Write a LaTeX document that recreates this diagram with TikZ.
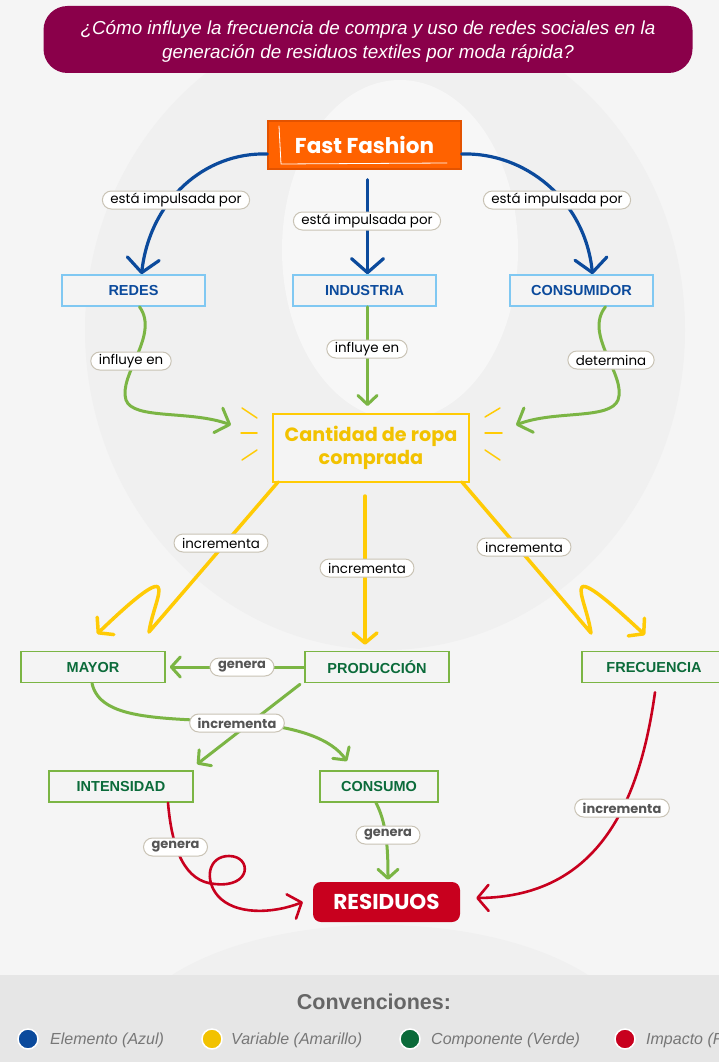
\documentclass[tikz,border=0pt]{standalone}
\usepackage{fontspec}
\setmainfont{Liberation Sans}
\newfontfamily\popfont{Poppins}
\usetikzlibrary{arrows.meta,calc}
\definecolor{bgc}{HTML}{F5F5F5}
\definecolor{bgdark}{HTML}{F0F0F0}
\definecolor{bglight}{HTML}{F7F7F7}
\definecolor{legbg}{HTML}{E6E6E6}
\definecolor{ctitle}{HTML}{8A004A}
\definecolor{corange}{HTML}{FF6200}
\definecolor{corangeb}{HTML}{E35300}
\definecolor{cblue}{HTML}{0B4A9C}
\definecolor{cbluel}{HTML}{80C8F2}
\definecolor{cgreen}{HTML}{7BB544}
\definecolor{cgreent}{HTML}{0B6B3A}
\definecolor{cyellow}{HTML}{FFCB05}
\definecolor{cyellowt}{HTML}{F2C200}
\definecolor{cred}{HTML}{C8001E}
\definecolor{cpill}{HTML}{C9C3B5}
\definecolor{cgray}{HTML}{555555}
\definecolor{clegt}{HTML}{777777}
\definecolor{clegh}{HTML}{666666}
\definecolor{boxfill}{HTML}{F4F4F4}
\tikzset{
 titlebox/.style={fill=ctitle, rounded corners=24pt, minimum width=649pt, minimum height=67pt, inner sep=0pt},
 titletext/.style={text=white, align=center, inner sep=0pt, font=\itshape\fontsize{18.8}{24}\selectfont},
 ffbox/.style={fill=corange, draw=corangeb, line width=1.5pt, minimum width=193pt, minimum height=48pt, text=white, inner sep=0pt, font=\popfont\bfseries\fontsize{21.5}{24}\selectfont},
 bluebox/.style={draw=cbluel, line width=1.6pt, fill=boxfill, minimum width=143pt, minimum height=31pt, inner sep=0pt, text=cblue, font=\bfseries\fontsize{14.5}{16}\selectfont},
 gbox/.style={draw=cgreen, line width=1.6pt, fill=boxfill, minimum width=144pt, minimum height=31pt, inner sep=0pt, text=cgreent, font=\bfseries\fontsize{14.5}{16}\selectfont},
 ybox/.style={draw=cyellow, line width=2pt, fill=boxfill, minimum width=196pt, minimum height=68pt, inner sep=0pt, text=cyellowt, align=center, font=\popfont\bfseries\fontsize{19.2}{22.5}\selectfont},
 rbox/.style={fill=cred, rounded corners=8pt, minimum width=147pt, minimum height=40pt, inner sep=0pt, text=white, font=\popfont\bfseries\fontsize{21.5}{24}\selectfont},
 pill/.style={draw=cpill, fill=white, rounded corners=9pt, line width=1pt, minimum height=18pt, inner xsep=8pt, inner ysep=1pt, text=black, font=\popfont\fontsize{13.4}{15}\selectfont},
 gpill/.style={pill, text=cgray, font=\popfont\bfseries\fontsize{13}{15}\selectfont},
 barrow/.style={draw=cblue, line width=3.2pt, line cap=round, -{Straight Barb[length=14pt,width=32pt,round]}},
 garrow/.style={draw=cgreen, line width=3pt, line cap=round, line join=round, -{Straight Barb[length=9pt,width=20pt,round]}},
 yarrow/.style={draw=cyellow, line width=3.5pt, line cap=round, line join=round, -{Straight Barb[length=10pt,width=24pt,round]}},
 rarrow/.style={draw=cred, line width=2.6pt, line cap=round, line join=round, -{Straight Barb[length=11pt,width=26pt,round]}},
 ray/.style={draw=cyellow, line width=1.5pt, line cap=round},
 legdot/.style={circle, draw=white, line width=1.5pt, minimum size=20pt, inner sep=0pt},
 legtext/.style={anchor=west, inner sep=0pt, text=clegt, font=\itshape\fontsize{16}{18}\selectfont},
}
\begin{document}
\begin{tikzpicture}[x=1pt,y=-1pt]
\useasboundingbox (0,0) rectangle (719,1062);
% background
\fill[bgc] (0,0) rectangle (719,1062);
\fill[bgdark] (385,330) ellipse [x radius=300, y radius=320];
\fill[bglight] (400,250) ellipse [x radius=118, y radius=170];
\fill[bgdark] (380,1050) ellipse [x radius=260, y radius=125];
\fill[legbg] (0,975) rectangle (719,1062);

% title
\node[titlebox] (title) at (368,39.5) {};
\node[titletext] (titletxt) at (368,42) {¿Cómo influye la frecuencia de compra y uso de redes sociales en la\\generación de residuos textiles por moda rápida?};

% main nodes
\node[ffbox] (ff) at (364.5,145) {Fast Fashion};
\draw[white, line width=0.8pt, line cap=round] (279,126) -- (281,164) -- (447,163);

\node[bluebox] (redes) at (133.5,290.5) {REDES};
\node[bluebox] (ind) at (364.5,290.5) {INDUSTRIA};
\node[bluebox] (cons) at (581.5,290.5) {CONSUMIDOR};

\node[ybox] (cant) at (371,448) {Cantidad de ropa\\comprada};
\draw[ray] (242,408) -- (257,418);
\draw[ray] (241,433) -- (257,433);
\draw[ray] (242,460) -- (257,450);
\draw[ray] (485,417) -- (500,408);
\draw[ray] (485,433) -- (502,433);
\draw[ray] (485,450) -- (500,460);

\node[gbox] (mayor) at (93,667) {MAYOR};
\node[gbox] (prod) at (377,667) {PRODUCCIÓN};
\node[gbox] (frec) at (654,667) {FRECUENCIA};
\node[gbox] (inten) at (121,786.5) {INTENSIDAD};
\node[gbox, minimum width=118pt] (consumo) at (379,786.5) {CONSUMO};

\node[rbox] (res) at (386.5,902) {RESIDUOS};

% free ends
\coordinate (cinL) at (231,425);
\coordinate (cinR) at (516,425);
\coordinate (cinM) at (367.5,406);
\coordinate (mayL) at (97,634);
\coordinate (frecR) at (645,635);

% blue connectors
\draw[barrow] ($(ff.west)+(0,9)$) .. controls (205,152) and (150,200) .. ([xshift=8pt]redes.north);
\draw[barrow] ($(ff.south)+(3,10)$) -- ([xshift=3pt]ind.north);
\draw[barrow] ($(ff.east)+(0,9)$) .. controls (525,152) and (585,200) .. ([xshift=11pt]cons.north);

% green to yellow box
\draw[garrow, -{Straight Barb[length=12pt,width=26pt,round]}] ([xshift=6pt]redes.south) .. controls (160,335) and (118,375) .. (126,400) .. controls (133,420) and (190,410) .. (cinL);
\draw[garrow, -{Straight Barb[length=9pt,width=19pt,round]}] ([xshift=3pt]ind.south) -- (cinM);
\draw[garrow, -{Straight Barb[length=12pt,width=26pt,round]}] ([xshift=24pt]cons.south) .. controls (583,335) and (627,375) .. (618,400) .. controls (610,420) and (555,410) .. (cinR);

% yellow connectors
\draw[yarrow] ($(cant.south west)+(6,-1)$) -- (149,632) .. controls (152,612) and (162,592) .. (158,587) .. controls (152,582) and (120,612) .. (mayL);
\draw[yarrow] ($(cant.south)+(-6,13)$) -- ([xshift=-12pt,yshift=6pt]prod.north);
\draw[yarrow] ($(cant.south east)+(-8,-1)$) -- (591,633) .. controls (588,612) and (578,592) .. (582,587) .. controls (588,582) and (620,612) .. (frecR);

% green lower connectors
\draw[garrow] (prod.west) -- ([xshift=4pt]mayor.east);
\draw[garrow] ([xshift=-1pt]mayor.south) .. controls (100,720) and (160,718) .. (237,722) .. controls (300,726) and (332,740) .. ([xshift=-32pt,yshift=9pt]consumo.north);
\draw[garrow] ([xshift=-77pt,yshift=-1pt]prod.south) -- ([xshift=76pt,yshift=6pt]inten.north);
\draw[garrow] ([xshift=-3pt]consumo.south) .. controls (386,822) and (388,845) .. ([xshift=1.5pt,yshift=2pt]res.north);

% red connectors
\draw[rarrow] ([xshift=47pt]inten.south) .. controls (172,850) and (185,882) .. (215,884) .. controls (252,888) and (252,856) .. (229,856) .. controls (208,856) and (204,880) .. (218,896) .. controls (235,915) and (272,914) .. ([xshift=-10pt]res.west);
\draw[rarrow] ([xshift=1pt,yshift=-9pt]frec.south) .. controls (640,800) and (600,897) .. ([xshift=16pt,yshift=4pt]res.east);

% labels
\node[pill] (l1) at (176,200) {está impulsada por};
\node[pill] (l2) at (367,221) {está impulsada por};
\node[pill] (l3) at (557,200) {está impulsada por};
\node[pill] (l4) at (131,361) {influye en};
\node[pill] (l5) at (367,349) {influye en};
\node[pill] (l6) at (611,360) {determina};
\node[pill] (l7) at (221,543) {incrementa};
\node[pill] (l8) at (367,568) {incrementa};
\node[pill] (l9) at (524,547) {incrementa};
\node[gpill] (l10) at (242,667) {genera};
\node[gpill] (l11) at (237,723) {incrementa};
\node[gpill] (l12) at (175.5,847) {genera};
\node[gpill] (l13) at (388,835) {genera};
\node[gpill] (l14) at (622,808) {incrementa};

% legend
\node[text=clegh, font=\bfseries\fontsize{21.5}{24}\selectfont] (conv) at (374,1002) {Convenciones:};
\node[legdot, fill=cblue] (d1) at (28,1039) {};
\node[legtext] (t1) at (50,1040) {Elemento (Azul)};
\node[legdot, fill=cyellowt] (d2) at (212,1039) {};
\node[legtext] (t2) at (231,1040) {Variable (Amarillo)};
\node[legdot, fill=cgreent] (d3) at (410,1039) {};
\node[legtext] (t3) at (431,1040) {Componente (Verde)};
\node[legdot, fill=cred] (d4) at (625,1039) {};
\node[legtext] (t4) at (646,1040) {Impacto (Rojo)};
\end{tikzpicture}
\end{document}
